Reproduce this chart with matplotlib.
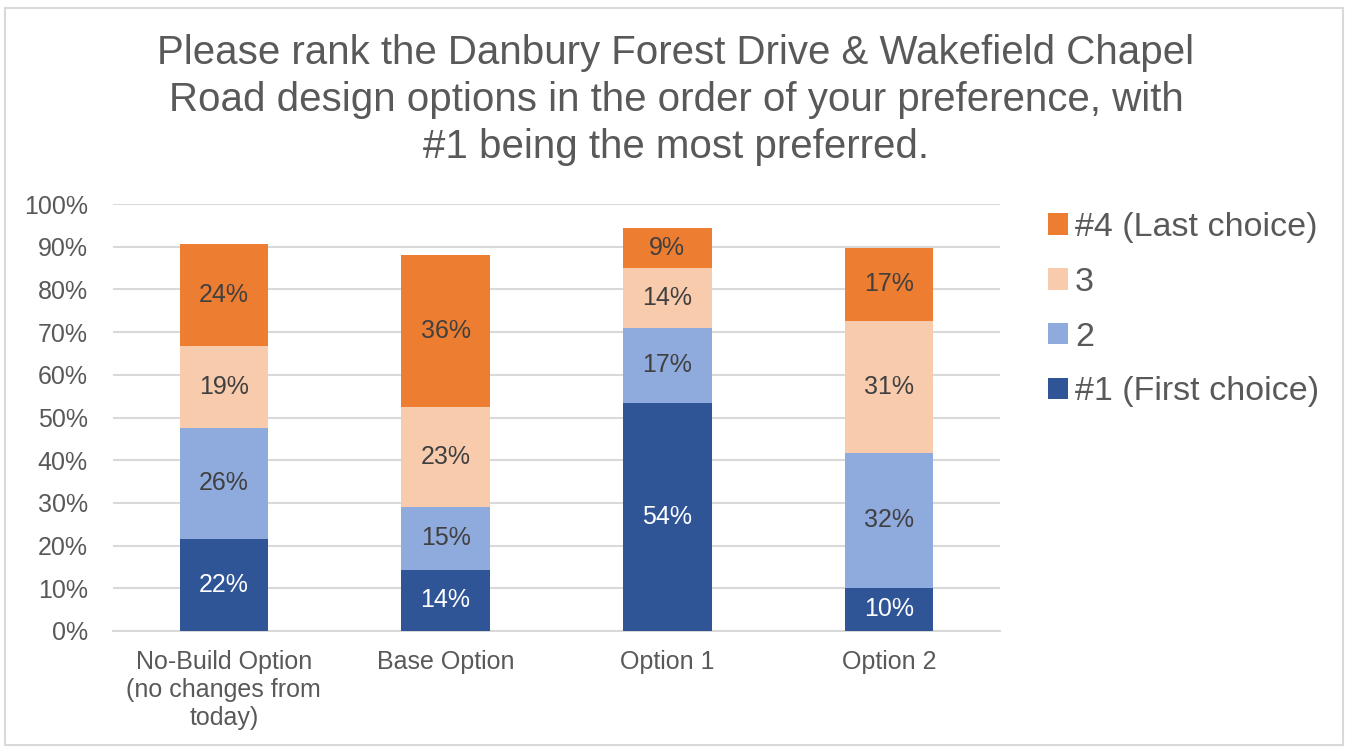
import matplotlib
matplotlib.use("Agg")
import matplotlib.pyplot as plt
from matplotlib.patches import Rectangle, Patch
import numpy as np

plt.rcParams['font.family'] = ['Liberation Sans', 'DejaVu Sans']

categories = ["No-Build Option\n(no changes from\ntoday)", "Base Option", "Option 1", "Option 2"]
series_names = ["#1 (First choice)", "2", "3", "#4 (Last choice)"]
first = [21.6, 14.4, 53.5, 10.1]
second = [25.9, 14.6, 17.4, 31.6]
third = [19.2, 23.4, 14.2, 30.9]
fourth = [23.9, 35.6, 9.2, 17.1]
colors = ["#2F5597", "#8FAADC", "#F8CBAD", "#ED7D31"]
label_colors = ["white", "#404040", "#404040", "#404040"]
title = ("Please rank the Danbury Forest Drive & Wakefield Chapel\n"
         "Road design options in the order of your preference, with\n"
         "#1 being the most preferred.")

W, H = 1348, 749
fig = plt.figure(figsize=(W/100, H/100), dpi=100)
fig.patch.set_facecolor("white")
fig.add_artist(Rectangle((5/W, 1 - 745/H), (1343-5)/W, (745-8)/H, transform=fig.transFigure,
                         fill=False, edgecolor="#D9D9D9", linewidth=1.5))

ax = fig.add_axes([113/W, 1 - 631/H, (1000-113)/W, (631-204)/H])
x = np.arange(len(categories))
bottom = np.zeros(len(categories))
for vals, name, col, lc in zip([first, second, third, fourth], series_names, colors, label_colors):
    vals = np.array(vals)
    ax.bar(x, vals, width=0.4, bottom=bottom, color=col, zorder=3, label=name)
    for xi, v, b in zip(x, vals, bottom):
        ax.text(xi, b + v/2, f"{round(v):d}%", ha="center", va="center",
                color=lc, fontsize=18, zorder=4)
    bottom = bottom + vals

ax.set_xlim(-0.5, 3.5)
ax.set_ylim(0, 100)
ax.set_yticks(np.arange(0, 101, 10))
ax.set_yticklabels([f"{v}%" for v in range(0, 101, 10)])
ax.set_xticks(x)
ax.set_xticklabels(categories, linespacing=1.2)
ax.yaxis.grid(True, color="#D9D9D9", linewidth=1.5, zorder=0)
for s in ["top", "right", "left"]:
    ax.spines[s].set_visible(False)
ax.spines["bottom"].set_color("#D9D9D9")
ax.spines["bottom"].set_linewidth(1.5)
ax.tick_params(axis="both", length=0, labelsize=18, colors="#595959")
ax.tick_params(axis="y", pad=18)
ax.tick_params(axis="x", pad=14)

fig.text(676/W, 1 - 100/H, title, ha="center", va="center", fontsize=29,
         color="#595959", linespacing=1.3)

leg_handles = [Patch(facecolor=c) for c in colors[::-1]]
fig.legend(leg_handles, series_names[::-1], loc="upper left",
           bbox_to_anchor=(1048/W, 1 - 212/H), frameon=False, fontsize=24.5,
           labelcolor="#595959", handlelength=0.59, handleheight=0.59,
           handletextpad=0.2, labelspacing=0.7, borderpad=0, borderaxespad=0)

fig.savefig("out.png", dpi=100)
